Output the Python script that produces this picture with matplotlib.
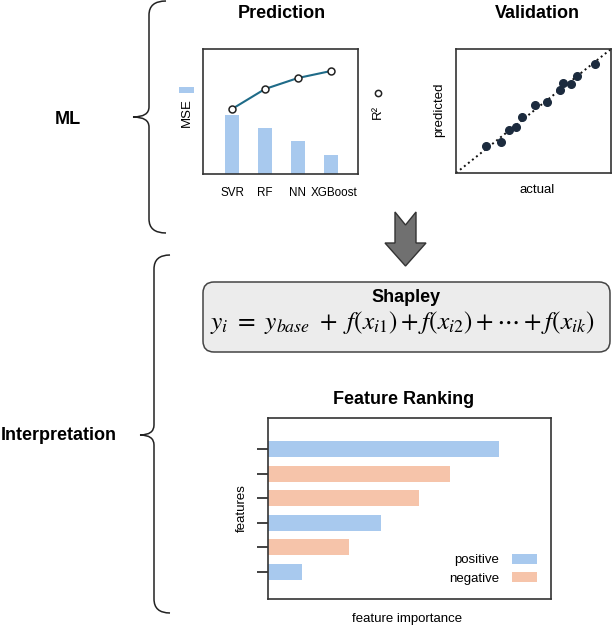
import matplotlib
matplotlib.use("Agg")
from matplotlib import pyplot as plt
from matplotlib.path import Path
from matplotlib.patches import PathPatch, FancyBboxPatch, Polygon, Rectangle
from matplotlib.transforms import ScaledTranslation
import numpy as np

plt.rcParams['font.family'] = ['Liberation Sans', 'DejaVu Sans']
plt.rcParams['mathtext.fontset'] = 'stix'

W, H = 612, 627

# data
models = ['SVR', 'RF', 'NN', 'XGBoost']
mse = [0.472, 0.368, 0.264, 0.152]
r2 = [0.52, 0.68, 0.768, 0.824]

actual = [0.194, 0.289, 0.345, 0.390, 0.427, 0.511, 0.588, 0.668, 0.688, 0.739, 0.782, 0.897]
predicted = [0.220, 0.252, 0.349, 0.373, 0.448, 0.547, 0.574, 0.668, 0.727, 0.716, 0.780, 0.882]

importance = [0.119, 0.285, 0.398, 0.535, 0.643, 0.816]   # bottom -> top
sign = ['positive', 'negative', 'positive', 'negative', 'negative', 'positive']

BLUE = '#a8c9ee'
SALMON = '#f6c4aa'
SPINE = '#333333'
TITLE_FS = 13
LABEL_FS = 9.5


def px_axes(x0, y0, x1, y1):
    return fig.add_axes([x0 / W, 1 - y1 / H, (x1 - x0) / W, (y1 - y0) / H])


def style(ax):
    for s in ax.spines.values():
        s.set_color(SPINE)
        s.set_linewidth(1.2)


def brace(ax, tip_x, line_x, point_x, top, mid, bottom, r=14, rm=10):
    verts = [(tip_x, top), (line_x, top), (line_x, top + r),
             (line_x, mid - rm), (line_x, mid), (point_x, mid),
             (line_x, mid), (line_x, mid + rm),
             (line_x, bottom - r), (line_x, bottom), (tip_x, bottom)]
    codes = [Path.MOVETO, Path.CURVE3, Path.CURVE3,
             Path.LINETO, Path.CURVE3, Path.CURVE3,
             Path.CURVE3, Path.CURVE3,
             Path.LINETO, Path.CURVE3, Path.CURVE3]
    ax.add_patch(PathPatch(Path(verts, codes), fc='none', ec='#222222', lw=1.1))


fig = plt.figure(figsize=(W / 100, H / 100), dpi=100)

# overlay in pixel coords for the schematic parts
ov = fig.add_axes([0, 0, 1, 1])
ov.set_xlim(0, W)
ov.set_ylim(H, 0)
ov.axis('off')

brace(ov, 166, 149, 133, 1, 117, 233)
brace(ov, 170, 154, 140, 255, 435, 613)
ov.text(68, 119, 'ML', fontsize=TITLE_FS, fontweight='bold', ha='center', va='center')
ov.text(59, 435, 'Interpretation', fontsize=TITLE_FS, fontweight='bold', ha='center', va='center')

# arrow
ov.add_patch(Polygon([(395, 212), (405.5, 225), (416, 212), (416, 243), (426, 243),
                      (405.5, 266), (385, 243), (395, 243)],
                     closed=True, fc='#707070', ec='#333333', lw=1))

# Shapley box
ov.add_patch(FancyBboxPatch((203, 282), 407, 70, boxstyle='round,pad=0,rounding_size=11',
                            fc='#ececec', ec='#444444', lw=1.1))
ov.text(406, 298, 'Shapley', fontsize=TITLE_FS, fontweight='bold', ha='center', va='center')
ov.text(402, 322,
        r'$y_i\ =\ y_{base}\ +\ f(x_{i1}) + f(x_{i2}) + \cdots + f(x_{ik})$',
        fontsize=18.3, ha='center', va='center')

# titles / labels
ov.text(282, 14, 'Prediction', fontsize=TITLE_FS, fontweight='bold', ha='center', va='center')
ov.text(537, 14, 'Validation', fontsize=TITLE_FS, fontweight='bold', ha='center', va='center')
ov.text(404, 399, 'Feature Ranking', fontsize=TITLE_FS, fontweight='bold', ha='center', va='center')

ov.add_patch(Rectangle((179, 87), 15, 6, fc=BLUE, ec='none'))
ov.text(187, 113, 'MSE', fontsize=LABEL_FS, rotation=90, ha='center', va='center')
ov.plot([378], [93], 'o', ms=4.5, mfc='white', mec='#222222', mew=1.1)
ov.text(378, 112, 'R²', fontsize=LABEL_FS, rotation=90, ha='center', va='center')

ov.text(439, 110, 'predicted', fontsize=LABEL_FS, rotation=90, ha='center', va='center')
ov.text(537, 190, 'actual', fontsize=LABEL_FS, ha='center', va='center')
ov.text(242, 508, 'features', fontsize=LABEL_FS, rotation=90, ha='center', va='center')
ov.text(407, 619, 'feature importance', fontsize=LABEL_FS, ha='center', va='center')

# Prediction panel
ax1 = px_axes(203, 49, 358, 174)
x = np.arange(len(models))
ax1.bar(x, mse, width=0.45, color=BLUE)
ax1.plot(x, r2, '-o', color='#1f6b88', lw=1.5, ms=5, mfc='white', mec='#222222', mew=1.1)
ax1.set_xlim(-0.88, 3.82)
ax1.set_ylim(0, 1)
ax1.set_xticks(x)
ax1.set_xticklabels(models, fontsize=8.4)
ax1.tick_params(axis='x', length=0, pad=9)
ax1.set_yticks([])
lab = ax1.get_xticklabels()[-1]
lab.set_transform(lab.get_transform() + ScaledTranslation(3 / 100, 0, fig.dpi_scale_trans))
style(ax1)

# Validation panel
ax2 = px_axes(456, 49, 611, 173)
ax2.plot([0, 1], [0, 1], ':', color='#111111', lw=1.4)
ax2.plot(actual, predicted, 'o', color='#1c2b3e', ms=5.5)
ax2.set_xlim(0, 1)
ax2.set_ylim(0, 1)
ax2.set_xticks([])
ax2.set_yticks([])
style(ax2)

# Feature ranking panel
ax3 = px_axes(268, 418, 551, 599)
pos = np.arange(len(importance))
cols = [BLUE if s == 'positive' else SALMON for s in sign]
ax3.barh(pos, importance, height=0.65, color=cols)
ax3.set_xlim(0, 1)
ax3.set_ylim(-1.1, 6.26)
ax3.set_xticks([])
ax3.set_yticks(pos)
ax3.set_yticklabels([])
ax3.tick_params(axis='y', length=8, width=1.3, color=SPINE)
style(ax3)

ax3.text(0.816, 0.215, 'positive', fontsize=LABEL_FS, ha='right', va='center', transform=ax3.transAxes)
ax3.text(0.816, 0.11, 'negative', fontsize=LABEL_FS, ha='right', va='center', transform=ax3.transAxes)
ax3.add_patch(Rectangle((0.862, 0.193), 0.088, 0.056, fc=BLUE, ec='none', transform=ax3.transAxes))
ax3.add_patch(Rectangle((0.862, 0.094), 0.088, 0.056, fc=SALMON, ec='none', transform=ax3.transAxes))

fig.savefig('out.png', dpi=100)
